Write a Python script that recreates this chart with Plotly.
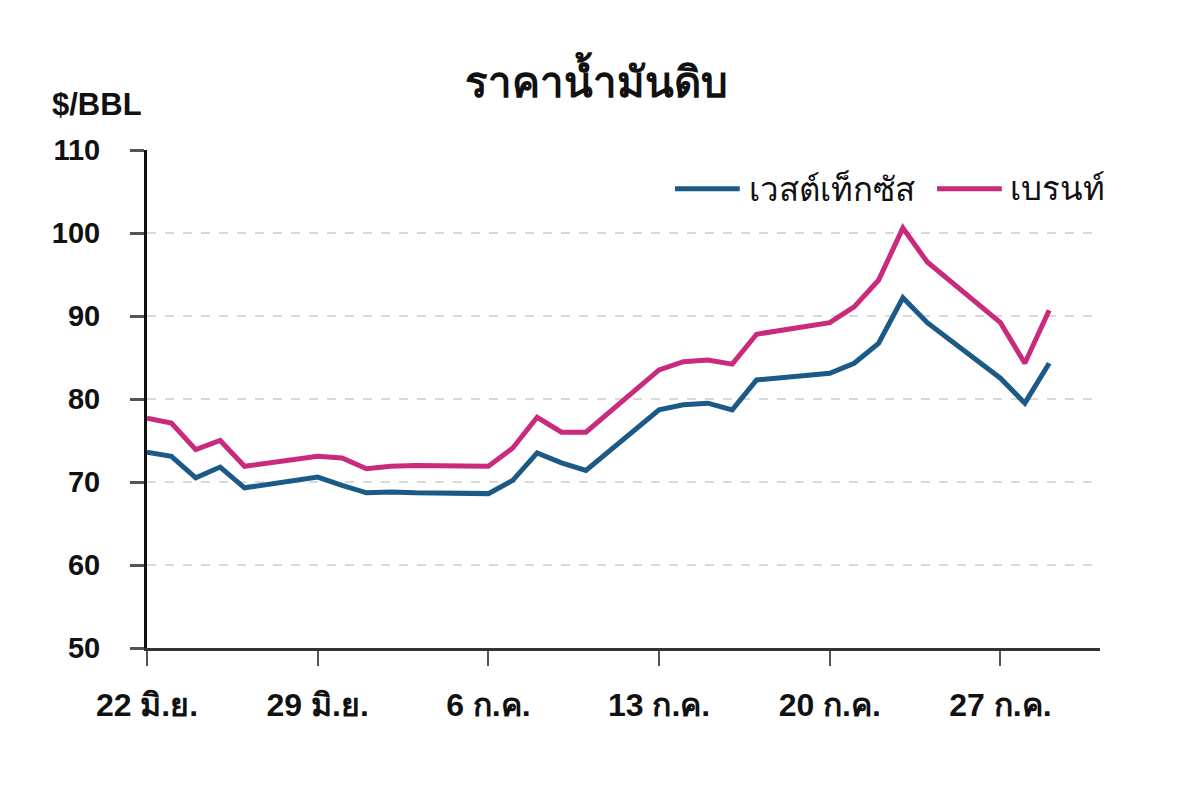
import plotly.graph_objects as go

dates = ["2020-06-22", "2020-06-23", "2020-06-24", "2020-06-25", "2020-06-26",
         "2020-06-29", "2020-06-30", "2020-07-01", "2020-07-02", "2020-07-03",
         "2020-07-06", "2020-07-07", "2020-07-08", "2020-07-09", "2020-07-10",
         "2020-07-13", "2020-07-14", "2020-07-15", "2020-07-16", "2020-07-17",
         "2020-07-20", "2020-07-21", "2020-07-22", "2020-07-23", "2020-07-24",
         "2020-07-27", "2020-07-28", "2020-07-29"]

wti = [73.6, 73.1, 70.5, 71.8, 69.3,
       70.6, 69.6, 68.7, 68.8, 68.7,
       68.6, 70.2, 73.5, 72.3, 71.4,
       78.7, 79.3, 79.5, 78.7, 82.3,
       83.1, 84.3, 86.7, 92.2, 89.2,
       82.5, 79.5, 84.3]

brent = [77.7, 77.1, 73.9, 75.0, 71.9,
         73.1, 72.9, 71.6, 71.9, 72.0,
         71.9, 74.1, 77.8, 76.0, 76.0,
         83.5, 84.5, 84.7, 84.2, 87.8,
         89.2, 91.1, 94.3, 100.6, 96.5,
         89.2, 84.3, 90.7]

tick_vals = ["2020-06-22", "2020-06-29", "2020-07-06", "2020-07-13", "2020-07-20", "2020-07-27"]
tick_text = ["22 มิ.ย.", "29 มิ.ย.", "6 ก.ค.", "13 ก.ค.", "20 ก.ค.", "27 ก.ค."]

series_names = ["เวสต์เท็กซัส", "เบรนท์"]
series_colors = ["#1b5a86", "#c92a7c"]
title_text = "ราคาน้ำมันดิบ"
unit_text = "$/BBL"

FONT = "Liberation Sans, Arial, sans-serif"

fig = go.Figure()
fig.add_trace(go.Scatter(x=dates, y=wti, mode="lines", name=series_names[0],
                         line=dict(color=series_colors[0], width=5)))
fig.add_trace(go.Scatter(x=dates, y=brent, mode="lines", name=series_names[1],
                         line=dict(color=series_colors[1], width=5)))

# custom legend (line sample + label), placed top-right inside plot
legend_y = 0.922
legend_items = [(0.554, 0.622, 0.630), (0.829, 0.897, 0.903)]
shapes = []
annotations = [dict(text="<b>" + unit_text + "</b>", xref="paper", yref="paper",
                    x=-0.102, y=1.092, xanchor="left", yanchor="middle", showarrow=False,
                    font=dict(size=31, family=FONT, color="#111"))]
for (x0, x1, xt), name, col in zip(legend_items, series_names, series_colors):
    shapes.append(dict(type="line", xref="paper", yref="paper", x0=x0, x1=x1,
                       y0=legend_y, y1=legend_y, line=dict(color=col, width=5)))
    annotations.append(dict(text=name, xref="paper", yref="paper", x=xt, y=legend_y,
                            xanchor="left", yanchor="middle", showarrow=False,
                            font=dict(size=33, family=FONT, color="#111")))

fig.update_layout(
    width=1200, height=799,
    margin=dict(l=147, r=100, t=150, b=151),
    paper_bgcolor="white", plot_bgcolor="white",
    font=dict(family=FONT, color="#111", size=22),
    title=dict(text="<b>" + title_text + "</b>", x=0.497, xanchor="center",
               y=0.897, yanchor="middle", font=dict(size=42, family=FONT, color="#111")),
    showlegend=False,
    shapes=shapes,
    annotations=annotations,
)

fig.update_xaxes(
    type="date", range=["2020-06-22", "2020-07-31 02:00"],
    tickvals=tick_vals, ticktext=tick_text,
    showline=True, linecolor="#333", linewidth=3,
    ticks="outside", ticklen=15, tickwidth=2, tickcolor="#555",
    showgrid=False, zeroline=False,
    tickfont=dict(size=32, family=FONT, color="#111", weight="bold"),
    ticklabelstandoff=12,
)
fig.update_yaxes(
    range=[50, 110], dtick=10, tick0=50,
    showline=True, linecolor="#111", linewidth=3,
    ticks="outside", ticklen=14, tickwidth=3, tickcolor="#555",
    showgrid=True, gridcolor="#d9d9d9", griddash="dash", gridwidth=1.5,
    zeroline=False,
    tickfont=dict(size=29, family=FONT, color="#111", weight="bold"),
    ticklabelstandoff=24,
)

fig.write_html("out.html")
